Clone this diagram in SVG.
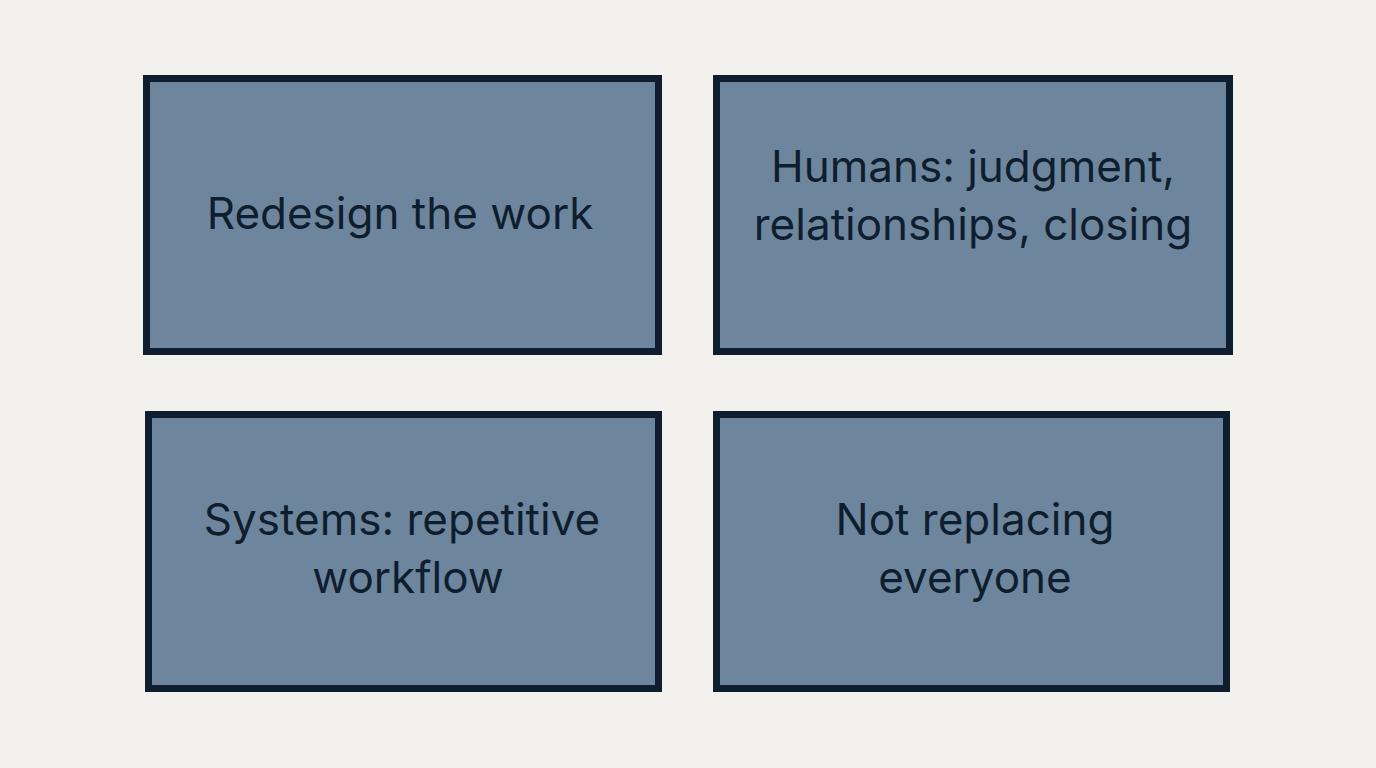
<svg xmlns="http://www.w3.org/2000/svg" width="1376" height="768" viewBox="0 0 1376 768">
<style>
.b{fill:#6e869d;stroke:#0f1e2e;stroke-width:7}
.t{font-family:Inter,"Noto Sans",sans-serif;font-size:44px;fill:#0f1e2e;text-anchor:middle}
</style>
<rect width="1376" height="768" fill="#f3f1ed"/>
<g id="n1"><rect class="b" x="146.5" y="78.5" width="512" height="273"/><text class="t" x="400" y="229">Redesign the work</text></g>
<g id="n2"><rect class="b" x="716.5" y="78.5" width="513" height="273"/><text class="t" x="973" y="182">Humans: judgment,</text><text class="t" x="973" y="240">relationships, closing</text></g>
<g id="n3"><rect class="b" x="148.5" y="414.5" width="510" height="274"/><text class="t" x="402" y="535">Systems: repetitive</text><text class="t" x="408" y="593">workflow</text></g>
<g id="n4"><rect class="b" x="716.5" y="414.5" width="510" height="274"/><text class="t" x="975" y="535">Not replacing</text><text class="t" x="975" y="593">everyone</text></g>
<g id="connectors"/>
</svg>
